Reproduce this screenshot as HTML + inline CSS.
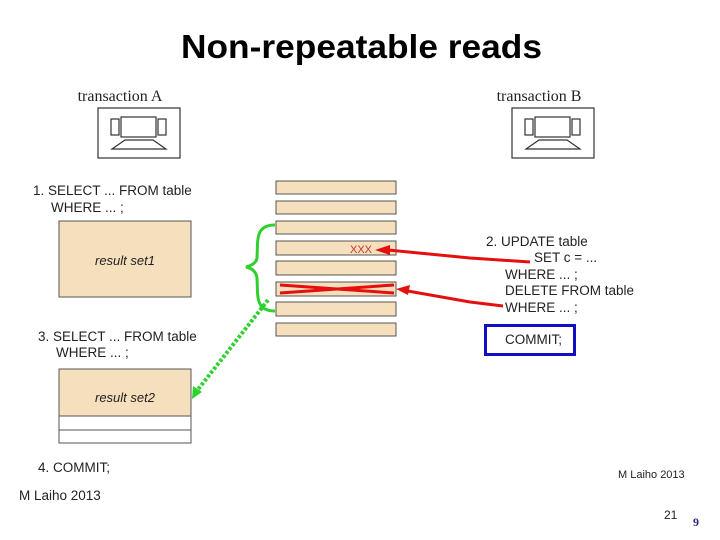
<!DOCTYPE html>
<html><head><meta charset="utf-8"><style>
body{margin:0;background:#fff}
svg{display:block}
</style></head><body>
<svg width="720" height="540" viewBox="0 0 720 540" xmlns="http://www.w3.org/2000/svg">
<text x="181" y="58" textLength="361" lengthAdjust="spacingAndGlyphs" font-family="Liberation Sans, sans-serif" font-size="33" font-weight="bold" fill="#000">Non-repeatable reads</text>
<g font-family="Liberation Serif, serif" font-size="16" fill="#222">
<text x="120" y="101" text-anchor="middle">transaction A</text>
<text x="539" y="101" text-anchor="middle">transaction B</text>
</g>
<g fill="none" stroke="#333" stroke-width="1.2">
<rect x="98" y="108" width="82" height="50"/>
<rect x="111" y="119" width="8" height="16"/><rect x="121" y="117" width="35" height="20"/><rect x="158" y="119" width="8" height="16"/>
<path d="M112 149 L125 140 L153 140 L166 149 Z"/>
<rect x="512" y="108" width="82" height="50"/>
<rect x="525" y="119" width="8" height="16"/><rect x="535" y="117" width="35" height="20"/><rect x="572" y="119" width="8" height="16"/>
<path d="M526 149 L539 140 L567 140 L580 149 Z"/>
</g>
<g font-family="Liberation Sans, sans-serif" font-size="13.5" fill="#222">
<text x="33" y="195">1.  SELECT ... FROM table</text>
<text x="51" y="212">WHERE ...  ;</text>
<text x="38" y="341">3.  SELECT ... FROM table</text>
<text x="56" y="357">WHERE ... ;</text>
<text x="38" y="472">4.  COMMIT;</text>
<text x="486" y="246">2.  UPDATE table</text>
<text x="534" y="262">SET c = ...</text>
<text x="505" y="279">WHERE ...   ;</text>
<text x="505" y="295">DELETE FROM table</text>
<text x="505" y="312">WHERE ...  ;</text>
<text x="513" y="326" font-size="11">...</text>
<text x="505" y="344">COMMIT;</text>
<text x="19" y="500">M Laiho 2013</text>
<text x="618" y="478" font-size="11">M Laiho 2013</text>
<text x="664" y="519" font-size="12">21</text>
</g>
<text x="693" y="526" font-family="Liberation Serif, serif" font-size="12" font-weight="bold" fill="#2a2a80">9</text>
<g stroke="#555" stroke-width="1" fill="#f6dfbc">
<rect x="59" y="221" width="132" height="76"/>
<rect x="59" y="369" width="132" height="47"/>
<rect x="59" y="416" width="132" height="14" fill="#fff"/>
<rect x="59" y="430" width="132" height="13" fill="#fff"/>
<rect x="276" y="181" width="120" height="13"/>
<rect x="276" y="201" width="120" height="13"/>
<rect x="276" y="221" width="120" height="13"/>
<rect x="276" y="241" width="120" height="14"/>
<rect x="276" y="261" width="120" height="14"/>
<rect x="276" y="282" width="120" height="14"/>
<rect x="276" y="302" width="120" height="14"/>
<rect x="276" y="323" width="120" height="13"/>
</g>
<g font-family="Liberation Sans, sans-serif" font-size="13" font-style="italic" fill="#222" text-anchor="middle">
<text x="125" y="265">result set1</text>
<text x="125" y="402">result set2</text>
</g>
<text x="350" y="253" font-family="Liberation Sans, sans-serif" font-size="11" fill="#c33">XXX</text>
<g stroke="#e41010" stroke-width="3" fill="none">
<path d="M280 285 L394 293"/><path d="M280 293 L394 285"/>
<path d="M530 262 L470 258 L388 250"/>
<path d="M503 306 L470 302 L402 290"/>
</g>
<path d="M375 250 L390 245 L390 255 Z" fill="#e41010"/>
<path d="M396 289 L410 285 L408 295 Z" fill="#e41010"/>
<path d="M275 225 C255 225 258 240 257 258 C256 264 250 266 246 267 C250 268 256 270 257 278 C258 296 255 311 275 311" stroke="#2fd02f" stroke-width="3" fill="none"/>
<path d="M268 300 L196 392" stroke="#2fd02f" stroke-width="4" stroke-dasharray="3 2" fill="none"/>
<path d="M192 399 L193 386 L202 392 Z" fill="#2fd02f"/>
<rect x="485.5" y="325.5" width="89" height="29" fill="none" stroke="#1010c0" stroke-width="3"/>
</svg>
</body></html>
